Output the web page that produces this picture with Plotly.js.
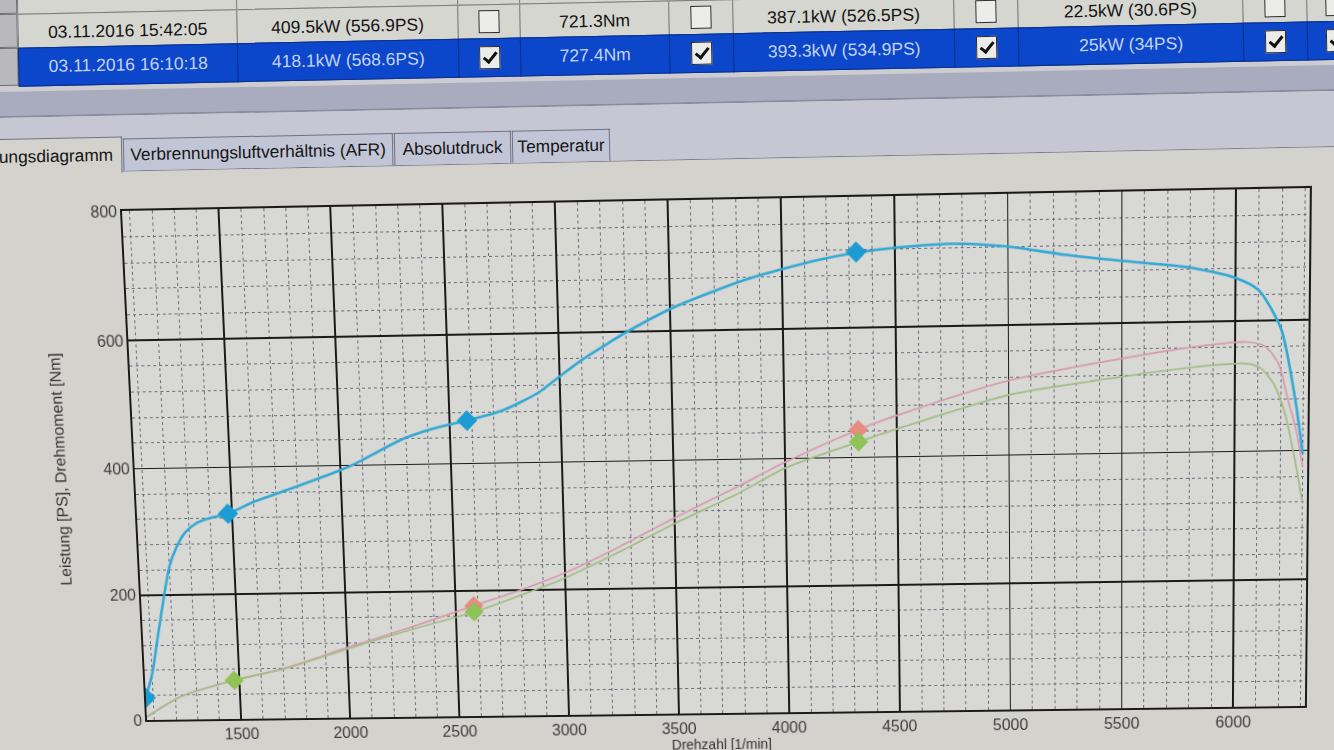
<!DOCTYPE html>
<html>
<head>
<meta charset="utf-8">
<script src="https://cdn.plot.ly/plotly-3.0.1.min.js"></script>
<style>
html,body{margin:0;padding:0;width:1334px;height:750px;overflow:hidden;background:#cfcfca;font-family:"Liberation Sans",Arial,sans-serif;}
#header{position:absolute;left:0;top:0;width:1334px;height:750px;transform-origin:0 0;transform:rotate(-1.16deg);}
.abs{position:absolute;box-sizing:border-box;}
.cell{position:absolute;box-sizing:border-box;border:1px solid #7a7a7a;display:flex;align-items:center;justify-content:center;font-size:17.5px;white-space:nowrap;overflow:hidden;}
.chk{position:relative;width:21px;height:23px;box-sizing:border-box;border:1.5px solid #2a2a2a;background:#ececea;}
.chk.on::after{content:"";position:absolute;left:6px;top:2px;width:5px;height:11px;border-right:3px solid #111;border-bottom:3px solid #111;transform:rotate(40deg);}
.tab{position:absolute;box-sizing:border-box;border:1px solid #6f7285;border-bottom:none;background:#c2c5d5;font-size:17.3px;color:#151515;display:flex;align-items:center;justify-content:center;white-space:nowrap;overflow:hidden;}
#chart{position:absolute;left:0;top:0;width:1334px;height:780px;transform-origin:0 0;}
</style>
</head>
<body>
<div id="header"></div>
<div id="chart"></div>
<script>
// ---------------- data ----------------
// table rows
const row2Cells = ["03.11.2016 15:42:05", "409.5kW (556.9PS)", false, "721.3Nm", false, "387.1kW (526.5PS)", false, "22.5kW (30.6PS)", false, false];
const row3Cells = ["03.11.2016 16:10:18", "418.1kW (568.6PS)", true, "727.4Nm", true, "393.3kW (534.9PS)", true, "25kW (34PS)", true, true];
const row1Cells = ["", "", false, "", false, "", false, "", false, false];
// tabs (the first one is cut at the left edge of the photo)
const tabLabels = ["ungsdiagramm", "Verbrennungsluftverhältnis (AFR)", "Absolutdruck", "Temperatur"];

// torque curve (blue) [1/min] -> [Nm]
const torqueRpm = [1065,1100,1137,1172,1202,1238,1280,1340,1400,1480,1600,1780,2000,2070,2280,2420,2578,2660,2740,2820,2900,3000,3110,3230,3305,3500,3680,3830,4000,4160,4330,4520,4750,5000,5250,5500,5800,6000,6100,6200,6263,6300];
const torqueNm  = [36,75,140,200,245,275,298,314,321,327,345,366,393,403,439,455,467,474,482,494,508,533,560,585,600,634,658,676,692,705,715,722,726,720,706,695,683,666,647,587,482,395];
// engine power curve (pink) [PS]
const powerRpm = [1065,1160,1240,1475,1713,2000,2300,2582,2800,3000,3250,3500,3790,4000,4330,4520,5000,5500,5820,6050,6130,6190,6230,6270,6300];
const powerPS  = [5,25,39,62,81,112,144,176,200,226,266,310,358,394,443,466,515,546,562,568,561,534,482,431,375];
// wheel power curve (green) [PS]
const wheelRpm = [1065,1160,1240,1475,1713,2000,2300,2582,2800,3000,3250,3500,3790,4000,4330,4520,5000,5500,5820,6050,6110,6170,6220,6260,6300];
const wheelPS  = [5,25,39,62,80,110,140,166,192,218,258,301,347,385,424,445,493,518,531,535,528,503,457,395,320];
// diamond markers
const torqueMarkRpm = [1065,1480,2578,4330];
const torqueMarkNm  = [36,327,467,716];
const powerMarkRpm  = [1475,2582,4330];
const powerMarkPS   = [62,176,443];
const wheelMarkRpm  = [1475,2582,4330];
const wheelMarkPS   = [62,166,424];
// axis ticks
const xTickStep = 500, xMinorStep = 100;
const yTickStep = 200, yMinorStep = 40;

// ---------------- header (table + tabs) ----------------
const header = document.getElementById('header');
const colEdges = [0,17,236,457,519,668,732,953,1017,1242,1306,1440];
function addRow(cells, top, h, selected){
  const rh = document.createElement('div');
  rh.className = 'cell';
  rh.style.cssText = `left:-6px;top:${top}px;width:${colEdges[1]+6}px;height:${h}px;background:#b9b9bd;border-color:#6f6f75;`;
  header.appendChild(rh);
  for (let i=0;i<cells.length;i++){
    const c = document.createElement('div');
    c.className = 'cell';
    const l = colEdges[i+1], r = colEdges[i+2];
    c.style.left = l+'px'; c.style.top = top+'px';
    c.style.width = (r-l+1)+'px'; c.style.height = (h+1)+'px';
    c.style.background = selected ? '#0c46cb' : '#d6d6d1';
    c.style.color = selected ? '#c3d3f2' : '#141414';
    c.style.borderColor = selected ? '#0a3188' : '#7a7a7a';
    const v = cells[i];
    if (typeof v === 'boolean'){
      const b = document.createElement('div');
      b.className = 'chk' + (v ? ' on' : '');
      if (i===cells.length-1){ c.style.justifyContent='flex-start'; b.style.marginLeft='18px'; }
      c.appendChild(b);
    } else {
      c.textContent = v;
      c.style.paddingTop = selected ? '0px' : '4px';
    }
    header.appendChild(c);
  }
}
function addBlock(l,t,w,h,bg,extra){
  const d=document.createElement('div'); d.className='abs';
  d.style.cssText=`left:${l}px;top:${t}px;width:${w}px;height:${h}px;background:${bg};${extra||''}`;
  header.appendChild(d); return d;
}
addBlock(-40,173,1500,700,'#d3d2cd','border-top:1px solid #7c7e90;');
addBlock(-40,86,1500,6,'#cdcdd1');
addBlock(-40,92,1500,24,'#a9abbf');
addBlock(-40,116,1500,2,'#8a8ca0');
addBlock(-40,118,1500,55,'#c6c7d2');
addRow(row1Cells,-24,38,false);
addRow(row2Cells,14,34,false);
addRow(row3Cells,48,38,true);
const tabEdges = [-32,120,391,509,608];
tabLabels.forEach((t,i)=>{
  const d=document.createElement('div'); d.className='tab';
  const sel = i===0;
  d.style.left = tabEdges[i]+'px';
  d.style.top = (sel?139:141)+'px';
  d.style.width = (tabEdges[i+1]-tabEdges[i]-1)+'px';
  d.style.height = (sel?36:32)+'px';
  if (sel){ d.style.background='#d3d2cd'; d.style.zIndex=2; d.style.justifyContent='flex-end'; d.style.paddingRight='8px'; }
  d.textContent = t;
  header.appendChild(d);
});

// ---------------- chart ----------------
const font = 'Liberation Sans, Arial, sans-serif';
const traces = [
  {x: powerRpm, y: powerPS, type:'scatter', mode:'lines', line:{color:'#d79aaf', width:1.7, shape:'spline', smoothing:0.7}, hoverinfo:'skip'},
  {x: wheelRpm, y: wheelPS, type:'scatter', mode:'lines', line:{color:'#a2bd85', width:1.7, shape:'spline', smoothing:0.7}, hoverinfo:'skip'},
  {x: torqueRpm, y: torqueNm, type:'scatter', mode:'lines', line:{color:'#33a9d5', width:2.6, shape:'spline', smoothing:0.7}, hoverinfo:'skip'},
  {x: powerMarkRpm, y: powerMarkPS, type:'scatter', mode:'markers', marker:{symbol:'diamond', size:15, color:'#e58b80'}, hoverinfo:'skip'},
  {x: wheelMarkRpm, y: wheelMarkPS, type:'scatter', mode:'markers', marker:{symbol:'diamond', size:15, color:'#8fc257'}, hoverinfo:'skip'},
  {x: torqueMarkRpm, y: torqueMarkNm, type:'scatter', mode:'markers', marker:{symbol:'diamond', size:16, color:'#1c9cd2'}, hoverinfo:'skip'}
];
const layout = {
  width:1334, height:780,
  margin:{l:132, r:26, t:199, b:68},
  paper_bgcolor:'rgba(0,0,0,0)',
  plot_bgcolor:'#d8d8d4',
  showlegend:false,
  font:{family:font, color:'#3a3a3a'},
  xaxis:{
    range:[1065,6320], tickmode:'linear', tick0:0, dtick:xTickStep,
    showgrid:true, gridcolor:'#1a1a1a', gridwidth:1.8, zeroline:false,
    showline:true, mirror:true, linecolor:'#1a1a1a', linewidth:1.8, ticks:'',
    tickfont:{family:font, size:16, color:'#3c3c40'},
    minor:{dtick:xMinorStep, showgrid:true, gridcolor:'#6a6c7c', griddash:'dot', gridwidth:1},
    title:{text:'Drehzahl [1/min]', font:{family:font, size:14, color:'#333'}, standoff:2}
  },
  yaxis:{
    range:[0,800], tickmode:'linear', tick0:0, dtick:yTickStep,
    showgrid:true, gridcolor:'#1a1a1a', gridwidth:1.8, zeroline:false,
    showline:true, mirror:true, linecolor:'#1a1a1a', linewidth:1.8, ticks:'',
    tickfont:{family:font, size:16, color:'#3c3c40'},
    minor:{dtick:yMinorStep, showgrid:true, gridcolor:'#6a6c7c', griddash:'dot', gridwidth:1},
    title:{text:'Leistung [PS], Drehmoment [Nm]', font:{family:font, size:16, color:'#333'}, standoff:34}
  }
};
Plotly.newPlot('chart', traces, layout, {displayModeBar:false, staticPlot:true});

// perspective of the photographed screen: map the flat plot area onto the photographed one
function homography(src, dst){
  const A=[], b=[];
  for (let i=0;i<4;i++){
    const x=src[i][0], y=src[i][1], u=dst[i][0], v=dst[i][1];
    A.push([x,y,1,0,0,0,-u*x,-u*y]); b.push(u);
    A.push([0,0,0,x,y,1,-v*x,-v*y]); b.push(v);
  }
  const n=8;
  for (let c=0;c<n;c++){
    let p=c; for (let r=c+1;r<n;r++) if (Math.abs(A[r][c])>Math.abs(A[p][c])) p=r;
    let t=A[c]; A[c]=A[p]; A[p]=t; t=b[c]; b[c]=b[p]; b[p]=t;
    for (let r=0;r<n;r++){ if (r===c) continue; const f=A[r][c]/A[c][c]; for (let k=c;k<n;k++) A[r][k]-=f*A[c][k]; b[r]-=f*b[c]; }
  }
  return b.map((v,i)=>v/A[i][i]);
}
const flatCorners  = [[132,199],[1308,199],[1308,712],[132,712]];
const photoCorners = [[122,211],[1310,188],[1305,706],[147,720]];
const h = homography(flatCorners, photoCorners);
document.getElementById('chart').style.transform =
  `matrix3d(${h[0]},${h[3]},0,${h[6]},${h[1]},${h[4]},0,${h[7]},0,0,1,0,${h[2]},${h[5]},0,1)`;
</script>
</body>
</html>
